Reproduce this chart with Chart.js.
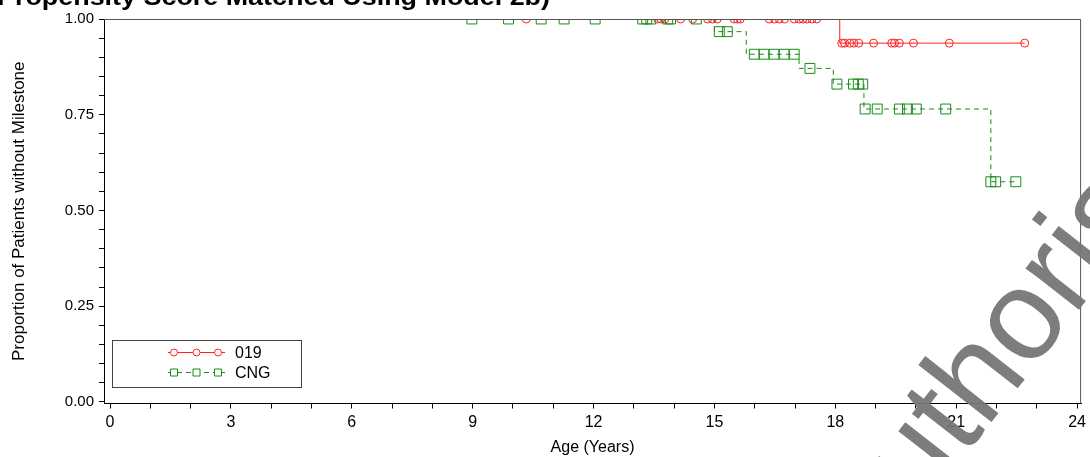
<!DOCTYPE html>
<html>
<head>
<meta charset="utf-8">
<script src="https://cdn.jsdelivr.net/npm/chart.js@4.4.1/dist/chart.umd.min.js"></script>
<style>
  html, body { margin: 0; padding: 0; background: #fff; }
  #wrap { width: 1090px; height: 457px; }
</style>
</head>
<body>
<div id="wrap"><canvas id="kmChart" width="1090" height="457"></canvas></div>
<script>
// Kaplan-Meier steps (time in years, survival after the event)
const curve019Times = [0, 18.11, 22.70];
const curve019Surv  = [1.0, 0.937, 0.937];
const curveCNGTimes = [0, 15.00, 15.79, 17.10, 17.95, 18.71, 21.86, 22.48];
const curveCNGSurv  = [1.0, 0.967, 0.908, 0.871, 0.830, 0.765, 0.575, 0.575];

// censored observations
const censor019 = [10.33, 13.59, 13.67, 13.77, 14.16, 14.46, 14.83, 14.95, 15.07, 15.49, 15.57, 15.64,
                   16.36, 16.49, 16.61, 16.74, 16.98, 17.10, 17.20, 17.30, 17.42, 17.54,
                   18.16, 18.23, 18.36, 18.46, 18.58, 18.95, 19.40, 19.47, 19.59, 19.94, 20.83, 22.70];
const censorCNG = [8.98, 9.89, 10.70, 11.27, 12.04, 13.22, 13.32, 13.42, 13.84, 13.91, 14.55,
                   15.12, 15.32, 15.99, 16.23, 16.48, 16.73, 16.98, 17.37,
                   18.04, 18.45, 18.57, 18.68, 18.74, 19.04, 19.59, 19.79, 20.01, 20.74,
                   21.86, 21.98, 22.48];

const xTickValues = [];
for (let i = 0; i <= 24; i++) xTickValues.push(i);
const yTickValues = [];
for (let i = 0; i <= 20; i++) yTickValues.push(i / 20);

const groupNames = ['019', 'CNG'];
const titleText = 'Propensity Score Matched Using Model 2b)';
const xTitle = 'Age (Years)';
const yTitle = 'Proportion of Patients without Milestone';
const watermarkText = 'authorised';

const RED = '#ff2020';
const GREEN = '#1a8c1a';
const FONT = '"Liberation Sans", Arial, sans-serif';

function stepPoints(times, surv) {
    return times.map((t, i) => ({ x: t, y: surv[i] }));
}
// survival value of the step curve at time t
function survAt(times, surv, t) {
    let s = surv[0];
    for (let i = 0; i < times.length; i++) {
        if (times[i] <= t) s = surv[i];
    }
    return s;
}
function censorPoints(list, times, surv) {
    return list.map(t => ({ x: t, y: survAt(times, surv, t) }));
}

const decorations = {
    id: 'decorations',
    afterDraw(chart) {
        const ctx = chart.ctx;
        const area = chart.chartArea;
        ctx.save();
        // top + right frame
        ctx.strokeStyle = '#555';
        ctx.lineWidth = 1;
        ctx.beginPath();
        ctx.moveTo(area.left, area.top + 0.5);
        ctx.lineTo(area.right - 0.5, area.top + 0.5);
        ctx.lineTo(area.right - 0.5, area.bottom);
        ctx.stroke();

        // legend box
        ctx.strokeStyle = '#444';
        ctx.strokeRect(112.5, 340.5, 189, 47);
        const rows = [
            { y: 352.5, color: RED, dash: [], name: groupNames[0], shape: 'circle' },
            { y: 372.5, color: GREEN, dash: [5, 4], name: groupNames[1], shape: 'rect' }
        ];
        rows.forEach(r => {
            ctx.strokeStyle = r.color;
            ctx.setLineDash(r.dash);
            ctx.beginPath();
            ctx.moveTo(168, r.y);
            ctx.lineTo(225, r.y);
            ctx.stroke();
            ctx.setLineDash([]);
            [174, 196.5, 218].forEach(mx => {
                ctx.fillStyle = '#fff';
                ctx.beginPath();
                if (r.shape === 'circle') {
                    ctx.arc(mx, r.y, 3.5, 0, Math.PI * 2);
                } else {
                    ctx.rect(mx - 3.5, r.y - 3.5, 7, 7);
                }
                ctx.fill();
                ctx.stroke();
            });
            ctx.fillStyle = '#000';
            ctx.font = '16px ' + FONT;
            ctx.textBaseline = 'middle';
            ctx.textAlign = 'left';
            ctx.fillText(r.name, 235, r.y + 1);
        });

        // title, cut off at top of picture
        ctx.fillStyle = '#000';
        ctx.font = 'bold 24px ' + FONT;
        ctx.textBaseline = 'alphabetic';
        const w = ctx.measureText(titleText).width;
        ctx.save();
        ctx.translate(-3, 5);
        ctx.scale(553 / w, 1);
        ctx.fillText(titleText, 0, 0);
        ctx.restore();

        // watermark
        ctx.save();
        ctx.fillStyle = 'rgba(118,118,118,0.95)';
        ctx.font = '128px ' + FONT;
        ctx.translate(964, 457);
        ctx.rotate(-52 * Math.PI / 180);
        const off = ctx.measureText('au').width;
        ctx.fillText(watermarkText, -off, 0);
        ctx.restore();

        ctx.restore();
    }
};

new Chart(document.getElementById('kmChart'), {
    type: 'scatter',
    data: {
        datasets: [
            {
                label: groupNames[1],
                type: 'line',
                data: stepPoints(curveCNGTimes, curveCNGSurv),
                stepped: true,
                borderColor: GREEN,
                borderWidth: 1,
                borderDash: [5, 4],
                pointRadius: 0,
                fill: false,
                order: 1
            },
            {
                label: groupNames[1] + ' censored',
                data: censorPoints(censorCNG, curveCNGTimes, curveCNGSurv),
                pointStyle: 'rect',
                pointRadius: 7,
                borderColor: GREEN,
                backgroundColor: 'rgba(0,0,0,0)',
                borderWidth: 1,
                showLine: false,
                order: 2
            },
            {
                label: groupNames[0],
                type: 'line',
                data: stepPoints(curve019Times, curve019Surv),
                stepped: true,
                borderColor: RED,
                borderWidth: 1,
                pointRadius: 0,
                fill: false,
                order: 3
            },
            {
                label: groupNames[0] + ' censored',
                data: censorPoints(censor019, curve019Times, curve019Surv),
                pointStyle: 'circle',
                pointRadius: 4,
                borderColor: RED,
                backgroundColor: 'rgba(0,0,0,0)',
                borderWidth: 1,
                showLine: false,
                order: 4
            }
        ]
    },
    options: {
        responsive: false,
        animation: false,
        devicePixelRatio: 1,
        layout: { padding: { top: 19, right: 5, left: 0, bottom: 0 } },
        plugins: {
            legend: { display: false },
            tooltip: { enabled: false }
        },
        scales: {
            x: {
                type: 'linear',
                min: -0.15,
                max: 24.1,
                afterBuildTicks: scale => { scale.ticks = xTickValues.map(v => ({ value: v })); },
                afterFit: scale => { scale.height = 53.5; },
                border: { color: '#000', width: 1 },
                grid: { drawOnChartArea: false, tickLength: 5, tickColor: '#000' },
                ticks: {
                    autoSkip: false,
                    maxRotation: 0,
                    padding: 4,
                    color: '#000',
                    font: { family: FONT, size: 16 },
                    callback: v => (v % 3 === 0 ? String(v) : '')
                },
                title: {
                    display: true,
                    text: xTitle,
                    color: '#000',
                    font: { family: FONT, size: 16 },
                    padding: { top: 6, bottom: 0 }
                }
            },
            y: {
                type: 'linear',
                min: -0.004,
                max: 1.0,
                afterBuildTicks: scale => { scale.ticks = yTickValues.map(v => ({ value: v })); },
                afterFit: scale => { scale.width = 104; },
                border: { color: '#000', width: 1 },
                grid: { drawOnChartArea: false, tickLength: 5, tickColor: '#000' },
                ticks: {
                    autoSkip: false,
                    padding: 5,
                    color: '#000',
                    font: { family: FONT, size: 15 },
                    callback: v => {
                        const r = Math.round(v * 100);
                        return r % 25 === 0 ? (r / 100).toFixed(2) : '';
                    }
                },
                title: {
                    display: true,
                    text: yTitle,
                    color: '#000',
                    font: { family: FONT, size: 17 },
                    padding: { top: 9, bottom: 4 }
                }
            }
        }
    },
    plugins: [decorations]
});
</script>
</body>
</html>
